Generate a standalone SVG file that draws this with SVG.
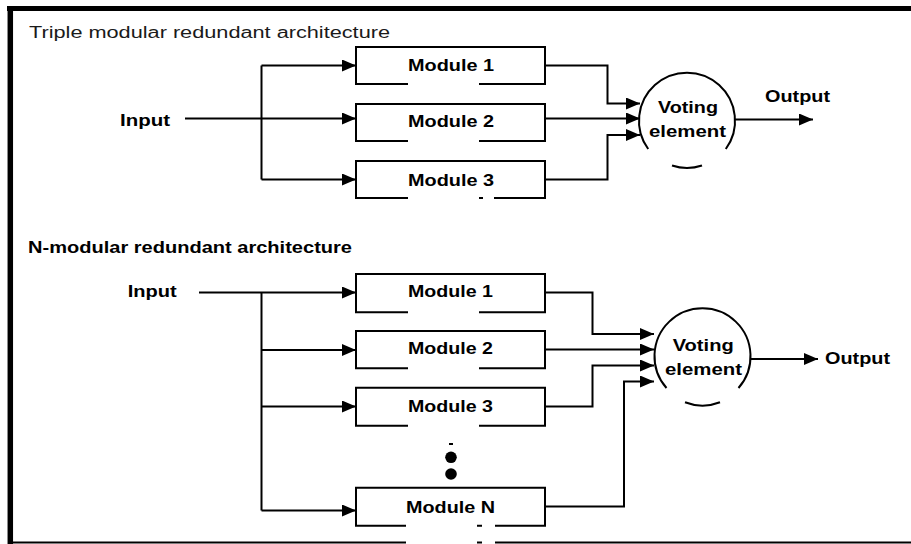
<svg xmlns="http://www.w3.org/2000/svg" width="911" height="544" viewBox="0 0 911 544">
  <style>
    .lbl { font-family: "Liberation Sans", Arial, sans-serif; font-weight: bold; font-size: 17px; fill: #000; }
    .ttl { font-family: "Liberation Sans", Arial, sans-serif; font-size: 16px; fill: #1a1a1a; }
    .box { fill: none; stroke: #000; stroke-width: 2; }
    .wire { fill: none; stroke: #000; stroke-width: 2; }
    .arr { marker-end: url(#ah); }
    .frame { fill: none; stroke: #000; }
  </style>
  <defs>
    <marker id="ah" markerWidth="14" markerHeight="12" refX="14" refY="6" orient="auto" markerUnits="userSpaceOnUse">
      <path d="M0,0 L14,6 L0,12 Z" fill="#000"/>
    </marker>
  </defs>
  <rect width="911" height="544" fill="#fff"/>

  <!-- outer frame -->
  <g id="frame">
    <line class="frame" x1="7" y1="8.5" x2="911" y2="8.5" stroke-width="5"/>
    <line class="frame" x1="10.3" y1="6" x2="10.3" y2="544" stroke-width="5.5"/>
    <path class="frame" stroke-width="2" d="M10,542.5 H406 M477,542.5 H482 M495,542.5 H911"/>
  </g>

  <!-- section titles -->
  <g id="title-tmr">
    <text class="ttl" x="29" y="37.5" textLength="361" lengthAdjust="spacingAndGlyphs">Triple modular redundant architecture</text>
  </g>
  <g id="title-nmr">
    <text class="lbl" x="28" y="252.5" textLength="324" lengthAdjust="spacingAndGlyphs">N-modular redundant architecture</text>
  </g>

  <!-- connectors -->
  <g id="connectors">
    <!-- triple modular -->
    <path class="wire arr" d="M185,118.5 H356"/>
    <path class="wire" d="M261.5,65.5 V179.5"/>
    <path class="wire arr" d="M261.5,65.5 H356"/>
    <path class="wire arr" d="M261.5,179.5 H356"/>
    <path class="wire arr" d="M545,65.5 H607.5 V103.5 H640"/>
    <path class="wire arr" d="M545,118.5 H640"/>
    <path class="wire arr" d="M545,179.5 H607.5 V135 H640"/>
    <path class="wire arr" d="M735,119.5 H813"/>
    <!-- N-modular -->
    <path class="wire arr" d="M199,292.5 H356"/>
    <path class="wire" d="M261.5,292.5 V510.5"/>
    <path class="wire arr" d="M261.5,350 H356"/>
    <path class="wire arr" d="M261.5,406.5 H356"/>
    <path class="wire arr" d="M261.5,510.5 H356"/>
    <path class="wire arr" d="M545,292.5 H592.5 V334 H654"/>
    <path class="wire arr" d="M545,349.5 H654"/>
    <path class="wire arr" d="M545,406.5 H592.5 V365.5 H654"/>
    <path class="wire arr" d="M545,506.5 H624 V381.5 H654"/>
    <path class="wire arr" d="M750,359 H818"/>
  </g>

  <!-- triple modular nodes -->
  <g id="tmr-input">
    <text class="lbl" x="120" y="126" textLength="50" lengthAdjust="spacingAndGlyphs">Input</text>
  </g>
  <g id="tmr-module1">
    <path class="box" d="M408,84 H356 V47 H545 V84 H479"/>
    <text class="lbl" x="408" y="70.7" textLength="86" lengthAdjust="spacingAndGlyphs">Module 1</text>
  </g>
  <g id="tmr-module2">
    <path class="box" d="M408,141 H356 V104 H545 V141 H479"/>
    <text class="lbl" x="408" y="127.3" textLength="86" lengthAdjust="spacingAndGlyphs">Module 2</text>
  </g>
  <g id="tmr-module3">
    <path class="box" d="M408,198 H356 V161 H545 V198 H494 M483,198 H479"/>
    <text class="lbl" x="408" y="185.7" textLength="86" lengthAdjust="spacingAndGlyphs">Module 3</text>
  </g>
  <g id="tmr-voter">
    <path class="box" d="M648.2,149 A48,48 0 1 1 725.8,149 M672,165.5 A48,48 0 0 0 702,165.5"/>
    <text class="lbl" x="658" y="112.7" textLength="60" lengthAdjust="spacingAndGlyphs">Voting</text>
    <text class="lbl" x="649" y="136.7" textLength="77" lengthAdjust="spacingAndGlyphs">element</text>
  </g>
  <g id="tmr-output">
    <text class="lbl" x="765" y="101.7" textLength="65" lengthAdjust="spacingAndGlyphs">Output</text>
  </g>

  <!-- N-modular nodes -->
  <g id="nmr-input">
    <text class="lbl" x="127.7" y="297.3" textLength="49" lengthAdjust="spacingAndGlyphs">Input</text>
  </g>
  <g id="nmr-module1">
    <path class="box" d="M408,312.3 H356 V274 H545 V312.3 H479"/>
    <text class="lbl" x="408" y="297.3" textLength="85" lengthAdjust="spacingAndGlyphs">Module 1</text>
  </g>
  <g id="nmr-module2">
    <path class="box" d="M408,368.3 H356 V331 H545 V368.3 H479"/>
    <text class="lbl" x="408" y="354" textLength="85" lengthAdjust="spacingAndGlyphs">Module 2</text>
  </g>
  <g id="nmr-module3">
    <path class="box" d="M408,425.7 H356 V387.7 H545 V425.7 H479"/>
    <text class="lbl" x="408" y="411.7" textLength="85" lengthAdjust="spacingAndGlyphs">Module 3</text>
  </g>
  <g id="nmr-ellipsis">
    <rect x="449" y="443" width="4" height="2" fill="#000"/>
    <circle cx="451" cy="457.3" r="5.8" fill="#000"/>
    <circle cx="451" cy="474" r="5.8" fill="#000"/>
  </g>
  <g id="nmr-moduleN">
    <path class="box" d="M406,525.7 H356 V487.7 H545 V525.7 H495 M482,525.7 H477"/>
    <text class="lbl" x="406" y="513.3" textLength="89" lengthAdjust="spacingAndGlyphs">Module N</text>
  </g>
  <g id="nmr-voter">
    <path class="box" d="M666.5,388 A48,48 0 1 1 738.5,388 M685,402.3 A48,48 0 0 0 720,402.3"/>
    <text class="lbl" x="672.7" y="351" textLength="61" lengthAdjust="spacingAndGlyphs">Voting</text>
    <text class="lbl" x="665" y="375" textLength="77" lengthAdjust="spacingAndGlyphs">element</text>
  </g>
  <g id="nmr-output">
    <text class="lbl" x="825" y="364" textLength="65" lengthAdjust="spacingAndGlyphs">Output</text>
  </g>
</svg>
